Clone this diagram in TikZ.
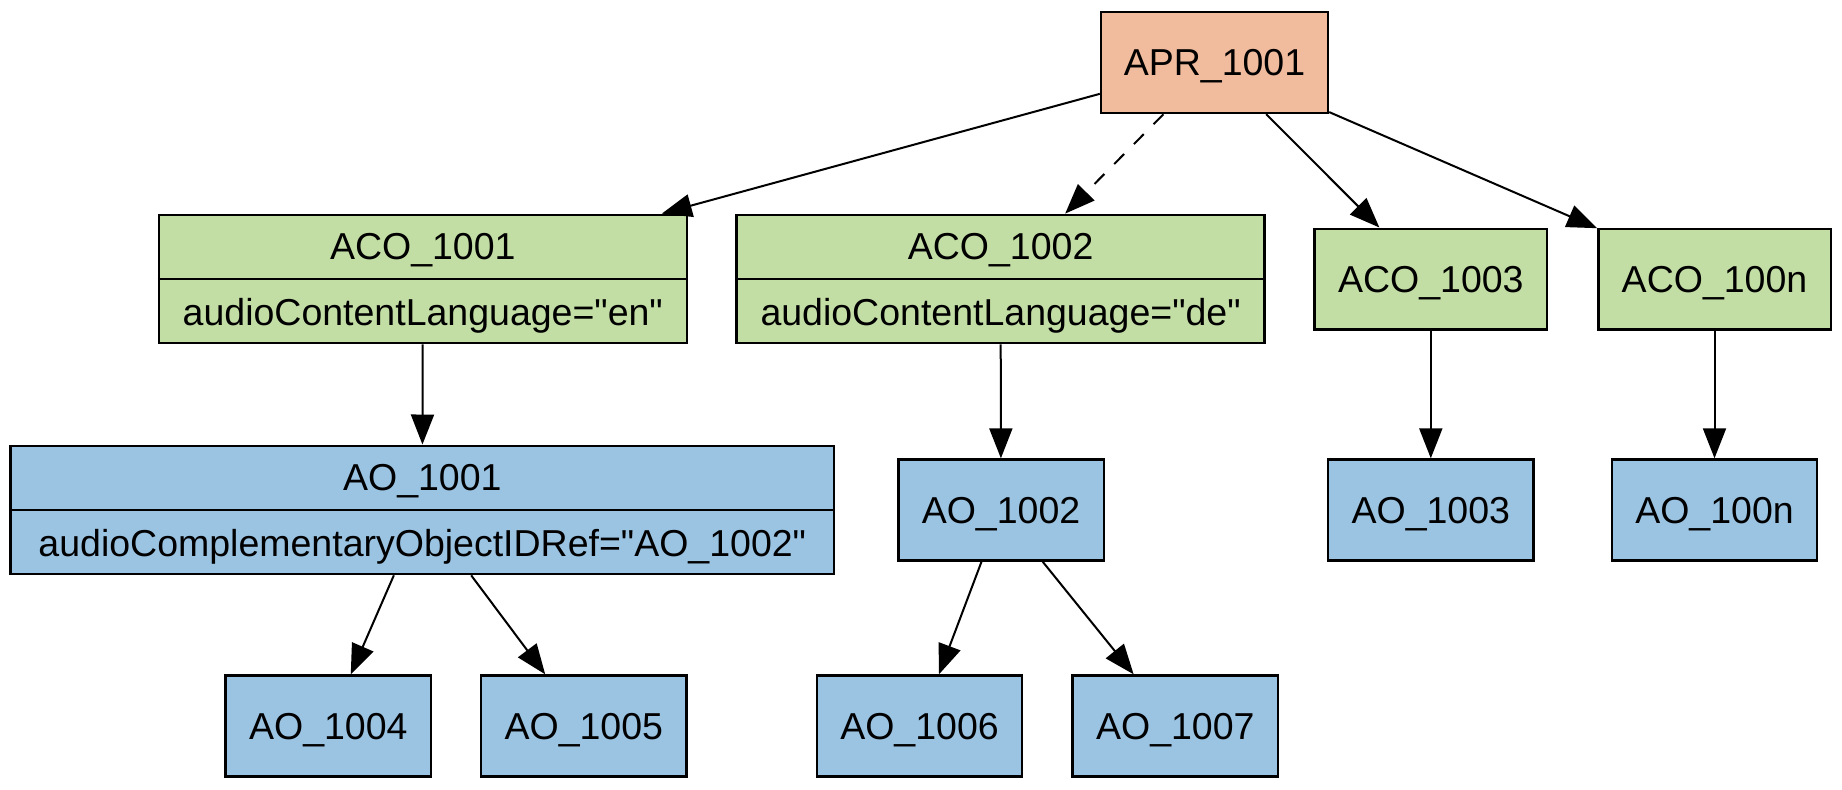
\documentclass[tikz,border=0pt]{standalone}
\usepackage{fontspec}
\newfontfamily\labfont{Liberation Sans}
\usetikzlibrary{arrows.meta,calc}
\definecolor{aprfill}{RGB}{241,187,157}
\definecolor{acofill}{RGB}{195,222,165}
\definecolor{aofill}{RGB}{155,196,227}
\begin{document}
\begin{tikzpicture}[x=0.5pt,y=-0.5pt,
  lbl/.style={font=\labfont\fontsize{18.75}{22}\selectfont, inner sep=0pt, text height=13.4pt, text depth=0pt},
  box/.style={draw=black, line width=1.2pt, inner sep=0pt, lbl},
  aprbox/.style={box, fill=aprfill, minimum width=113.5pt, minimum height=50.5pt},
  acobig/.style={box, fill=acofill, minimum width=264pt, minimum height=64.2pt},
  acosmall/.style={box, fill=acofill, minimum width=116.2pt, minimum height=50.3pt},
  aobig/.style={box, fill=aofill, minimum width=411.7pt, minimum height=64.2pt},
  aosmall/.style={box, fill=aofill, minimum width=102.7pt, minimum height=50.5pt},
  divider/.style={draw=black, line width=1.2pt},
  edge/.style={draw=black, line width=1pt, -{Triangle[length=15pt,width=11.5pt]}},
  dashededge/.style={edge, dash pattern=on 7pt off 7pt}
]
\useasboundingbox (0,0) rectangle (1842,789);

% top
\node[aprbox] (apr) at (1214.5,62.5) {APR\_1001};

% ACO row
\node[acobig] (aco1) at (422.8,279) {};
\node[acobig] (aco2) at (1000.6,279) {};
\node[acosmall] (aco3) at (1430.8,279) {ACO\_1003};
\node[acosmall] (acon) at (1714.5,279) {ACO\_100n};
\draw[divider] (aco1.west) -- (aco1.east);
\draw[divider] (aco2.west) -- (aco2.east);
\node[lbl] (aco1t) at ($(aco1.north)!0.5!(aco1.center)$) {ACO\_1001};
\node[lbl] (aco1a) at ($(aco1.south)!0.5!(aco1.center)$) {audioContentLanguage="en"};
\node[lbl] (aco2t) at ($(aco2.north)!0.5!(aco2.center)$) {ACO\_1002};
\node[lbl] (aco2a) at ($(aco2.south)!0.5!(aco2.center)$) {audioContentLanguage="de"};

% AO row
\node[aobig] (ao1) at (422.3,509.9) {};
\draw[divider] (ao1.west) -- (ao1.east);
\node[lbl] (ao1t) at ($(ao1.north)!0.5!(ao1.center)$) {AO\_1001};
\node[lbl] (ao1a) at ($(ao1.south)!0.5!(ao1.center)$) {audioComplementaryObjectIDRef="AO\_1002"};
\node[aosmall] (ao2) at (1001,510) {AO\_1002};
\node[aosmall] (ao3) at (1430.8,510) {AO\_1003};
\node[aosmall] (aon) at (1714.5,510) {AO\_100n};

% bottom row
\node[aosmall] (ao4) at (328.3,726) {AO\_1004};
\node[aosmall] (ao5) at (583.8,726) {AO\_1005};
\node[aosmall] (ao6) at (919.5,726) {AO\_1006};
\node[aosmall] (ao7) at (1175.3,726) {AO\_1007};

% edges
\draw[edge] (apr) -- (aco1);
\draw[dashededge] (apr) -- (aco2);
\draw[edge] (apr) -- (aco3);
\draw[edge] (apr) -- (acon);
\draw[edge] (aco1) -- (ao1);
\draw[edge] (aco2) -- (ao2);
\draw[edge] (aco3) -- (ao3);
\draw[edge] (acon) -- (aon);
\draw[edge] (ao1) -- (ao4);
\draw[edge] (ao1) -- (ao5);
\draw[edge] (ao2) -- (ao6);
\draw[edge] (ao2) -- (ao7);
\end{tikzpicture}
\end{document}
